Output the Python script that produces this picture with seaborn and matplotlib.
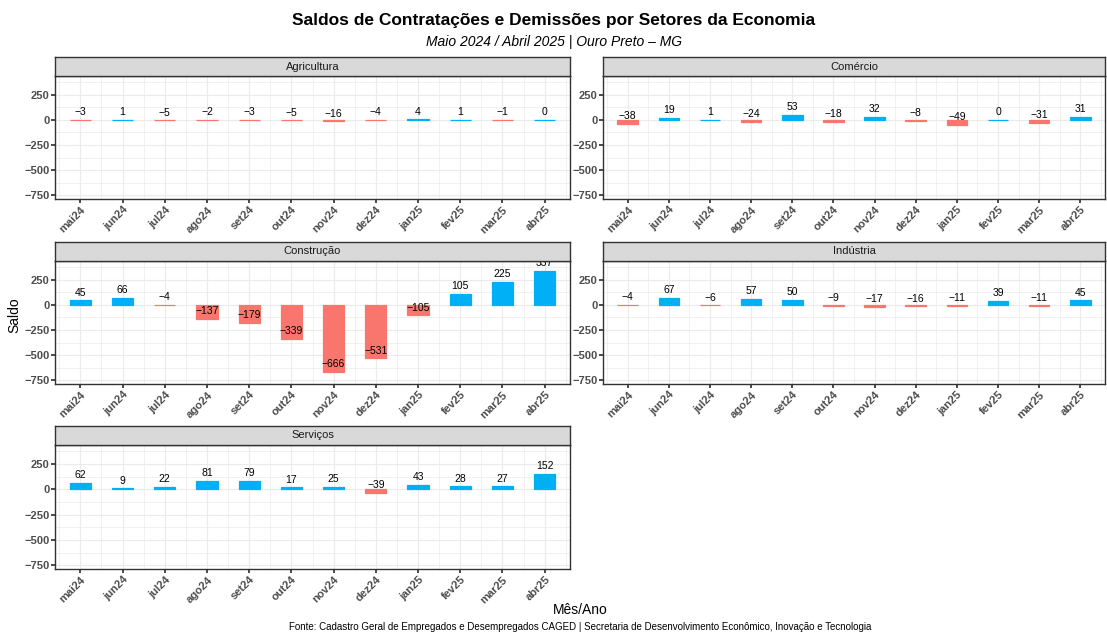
import numpy as np
import pandas as pd
import matplotlib
matplotlib.use("Agg")
import matplotlib.pyplot as plt
import seaborn as sns

sns.set_theme(style="white")
plt.rcParams['font.family'] = ['Liberation Sans', 'DejaVu Sans']
plt.rcParams['axes.unicode_minus'] = True
plt.rcParams['text.color'] = 'black'

# dados
meses = ["mai24", "jun24", "jul24", "ago24", "set24", "out24",
         "nov24", "dez24", "jan25", "fev25", "mar25", "abr25"]
agricultura = [-3, 1, -5, -2, -3, -5, -16, -4, 4, 1, -1, 0]
comercio = [-38, 19, 1, -24, 53, -18, 32, -8, -49, 0, -31, 31]
construcao = [45, 66, -4, -137, -179, -339, -666, -531, -105, 105, 225, 337]
industria = [-4, 67, -6, 57, 50, -9, -17, -16, -11, 39, -11, 45]
servicos = [62, 9, 22, 81, 79, 17, 25, -39, 43, 28, 27, 152]

setores = {"Agricultura": agricultura, "Comércio": comercio,
           "Construção": construcao, "Indústria": industria,
           "Serviços": servicos}

azul = "#00B0F6"
vermelho = "#F8766D"

fig = plt.figure(figsize=(11.07, 6.33), dpi=100)
W, H = 1107, 633

# posicoes dos paineis em pixels (x0, x1, y_topo_strip, y_base)
cols = [(55, 570), (603, 1105)]
rows = [(57, 199), (242, 384), (426, 569)]
strip_h = 19

for i, (nome, vals) in enumerate(setores.items()):
    r, c = divmod(i, 2)
    x0, x1 = cols[c]
    yt, yb = rows[r]
    ax = fig.add_axes([x0 / W, 1 - yb / H, (x1 - x0) / W, (yb - yt - strip_h) / H])
    sax = fig.add_axes([x0 / W, 1 - (yt + strip_h) / H, (x1 - x0) / W, strip_h / H])

    df = pd.DataFrame({"mes": meses, "saldo": vals})
    df["sinal"] = np.where(df["saldo"] >= 0, "pos", "neg")
    sns.barplot(data=df, x="mes", y="saldo", hue="sinal", order=meses,
                palette={"pos": azul, "neg": vermelho}, width=0.5,
                dodge=False, legend=False, ax=ax, saturation=1, zorder=3)
    # contorno fino para que barras pequenas aparecam como linha
    for p in ax.patches:
        p.set_edgecolor(p.get_facecolor())
        p.set_linewidth(0.9)
    for j, v in enumerate(vals):
        ax.annotate(f"{v}".replace("-", "\u2212"), (j, v), xytext=(0, 2),
                    textcoords="offset points", ha="center", va="bottom",
                    fontsize=7.5, color="black", zorder=4, annotation_clip=False,
                    clip_on=True)

    ax.set_ylim(-785, 435)
    ax.set_xlim(-0.6, 11.6)
    ax.set_yticks([-750, -500, -250, 0, 250])
    ax.set_yticklabels(["\u2212750", "\u2212500", "\u2212250", "0", "250"])
    ax.set_yticks([-625, -375, -125, 125, 375], minor=True)
    ax.set_xticks(np.arange(-0.5, 12, 1), minor=True)
    ax.grid(True, which="major", color="#EBEBEB", lw=0.8, zorder=0)
    ax.grid(True, which="minor", color="#EBEBEB", lw=0.5, zorder=0)
    ax.set_axisbelow(True)
    ax.tick_params(axis="x", which="major", labelrotation=45, labelsize=8,
                   labelcolor="#4D4D4D", length=3, color="#333333", bottom=True,
                   pad=1)
    ax.tick_params(axis="y", which="major", labelsize=8, labelcolor="#4D4D4D",
                   length=3, color="#333333", left=True, pad=1)
    ax.tick_params(which="minor", length=0)
    for lab in ax.get_xticklabels():
        lab.set_fontweight("bold")
        lab.set_ha("right")
        lab.set_rotation_mode("anchor")
    for lab in ax.get_yticklabels():
        lab.set_fontweight("bold")
    for sp in ax.spines.values():
        sp.set_color("#333333")
        sp.set_linewidth(1)
    ax.set_xlabel("")
    ax.set_ylabel("")

    sax.set_facecolor("#D9D9D9")
    sax.set_xticks([])
    sax.set_yticks([])
    for sp in sax.spines.values():
        sp.set_color("#333333")
        sp.set_linewidth(1)
    sax.text(0.5, 0.5, nome, ha="center", va="center", fontsize=8,
             color="#1A1A1A", transform=sax.transAxes)

fig.text(0.5, 1 - 20 / H, "Saldos de Contratações e Demissões por Setores da Economia",
         ha="center", va="center", fontsize=12.5, fontweight="bold", color="black")
fig.text(0.5, 1 - 42 / H, "Maio 2024 / Abril 2025 | Ouro Preto \u2013 MG",
         ha="center", va="center", fontsize=10, style="italic", color="black")
fig.text(14 / W, 1 - 315 / H, "Saldo", rotation=90, ha="center", va="center",
         fontsize=10, color="black")
fig.text(0.5 * (55 + 1105) / W, 1 - 610 / H, "Mês/Ano", ha="center", va="center",
         fontsize=10, color="black")
fig.text(0.5 * (55 + 1105) / W, 1 - 627 / H,
         "Fonte: Cadastro Geral de Empregados e Desempregados CAGED | Secretaria de Desenvolvimento Econômico, Inovação e Tecnologia",
         ha="center", va="center", fontsize=7, color="black")

fig.savefig("out.png", dpi=100)
